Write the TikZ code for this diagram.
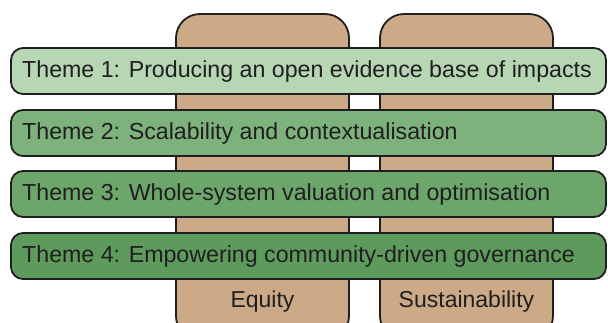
\documentclass[tikz,border=0pt]{standalone}
\usepackage{fontspec}
\setmainfont{Liberation Sans}
\begin{document}
\begin{tikzpicture}[x=1pt,y=-1pt,
  pillar/.style={draw=black!88,line width=1.8pt,fill=pillarfill,rounded corners=24pt},
  theme/.style={draw=black!88,line width=1.8pt,rounded corners=12pt},
  themetext/.style={anchor=west,font=\fontsize{23.2}{26}\selectfont,text=black!88,inner sep=0pt},
  pillartext/.style={anchor=center,font=\fontsize{23}{26}\selectfont,text=black!88,inner sep=0pt}]
\definecolor{pillarfill}{RGB}{205,170,135}
\definecolor{tone1}{RGB}{182,214,180}
\definecolor{tone2}{RGB}{126,178,124}
\definecolor{tone3}{RGB}{108,166,106}
\definecolor{tone4}{RGB}{94,154,92}
\useasboundingbox (0,0) rectangle (608,322);
% vertical pillars
\draw[pillar] (176,340) rectangle (349,14);
\draw[pillar] (380,340) rectangle (553,14);
\node[pillartext] (equity) at (262.5,302) {Equity};
\node[pillartext] (sust) at (466.5,302) {Sustainability};
% horizontal theme bars
\draw[theme,fill=tone1] (11,48) rectangle (606,94);
\draw[theme,fill=tone2] (11,110) rectangle (606,156);
\draw[theme,fill=tone3] (11,171) rectangle (606,217);
\draw[theme,fill=tone4] (11,233) rectangle (606,279);
\node[themetext] (t1) at (22,71) {Theme 1: Producing an open evidence base of impacts};
\node[themetext] (t2) at (22,133) {Theme 2: Scalability and contextualisation};
\node[themetext] (t3) at (22,194) {Theme 3: Whole-system valuation and optimisation};
\node[themetext] (t4) at (22,256) {Theme 4: Empowering community-driven governance};
\end{tikzpicture}
\end{document}
